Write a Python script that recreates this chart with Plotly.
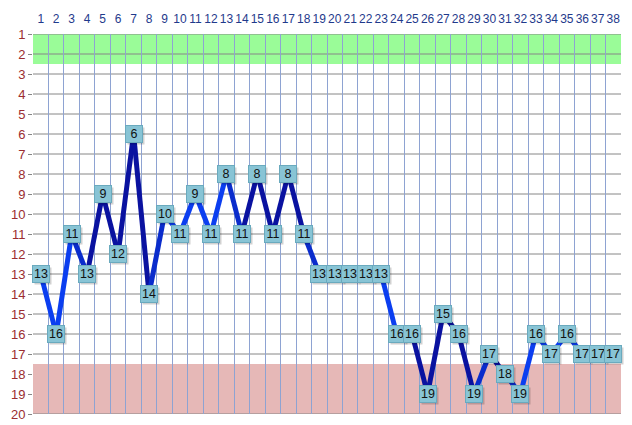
import plotly.graph_objects as go

rounds = list(range(1, 39))
positions = [13, 16, 11, 13, 9, 12, 6, 14, 10, 11, 9, 11, 8, 11, 8, 11, 8, 11,
             13, 13, 13, 13, 13, 16, 16, 19, 15, 16, 19, 17, 18, 19, 16, 17, 16, 17, 17, 17]
y_ticks = list(range(1, 21))
top_zone = [1, 2.5]
bottom_zone = [17.5, 20]

BRIGHT = "#0b3ef0"
MED = "#0a2ccc"
DARK = "#0a12a0"
seg_colors = [BRIGHT, BRIGHT, MED, DARK, DARK, DARK, DARK, MED, BRIGHT, BRIGHT,
              BRIGHT, BRIGHT, MED, DARK, DARK, DARK, DARK, MED, BRIGHT, BRIGHT,
              BRIGHT, BRIGHT, BRIGHT, BRIGHT, DARK, DARK, DARK, DARK, MED, DARK,
              MED, BRIGHT, BRIGHT, BRIGHT, BRIGHT, BRIGHT, BRIGHT]

fig = go.Figure()
for i in range(len(rounds) - 1):
    fig.add_trace(go.Scatter(
        x=[rounds[i], rounds[i + 1]], y=[positions[i], positions[i + 1]],
        mode="lines", line=dict(color=seg_colors[i], width=5),
        showlegend=False, hoverinfo="skip"))

annotations = []
for xv, yv in zip(rounds, positions):
    annotations.append(dict(x=xv, y=yv, xref="x", yref="y", text="", showarrow=False,
                            width=16, height=16, bgcolor="rgba(0,0,0,0.18)",
                            xshift=2, yshift=-2, borderpad=0))
for xv, yv in zip(rounds, positions):
    annotations.append(dict(x=xv, y=yv, xref="x", yref="y", text=str(yv), showarrow=False,
                            width=16, height=16, bgcolor="#88c4d5", bordercolor="#6aaabe",
                            borderwidth=1, borderpad=0,
                            font=dict(family="Liberation Sans", size=12.5, color="#111111")))

GRID_H = "#868686"
shapes = [dict(type="rect", xref="paper", yref="y", x0=0, x1=1, y0=top_zone[0], y1=top_zone[1],
               fillcolor="#9afc98", line=dict(width=0), layer="below")]
for v in y_ticks:
    shapes.append(dict(type="line", xref="paper", yref="y", x0=0, x1=1, y0=v, y1=v,
                       line=dict(color=GRID_H, width=1), layer="below"))
shapes.append(dict(type="rect", xref="paper", yref="y", x0=0, x1=1,
                   y0=bottom_zone[0], y1=bottom_zone[1],
                   fillcolor="#e6b8b7", line=dict(width=0), layer="below"))
shapes.append(dict(type="line", xref="paper", yref="y", x0=0, x1=1,
                   y0=y_ticks[-1], y1=y_ticks[-1],
                   line=dict(color=GRID_H, width=1), layer="below"))

fig.update_layout(
    width=624, height=417,
    margin=dict(l=25, r=11, t=26, b=11),
    paper_bgcolor="white", plot_bgcolor="white",
    shapes=shapes, annotations=annotations,
    xaxis=dict(range=[0.5, 38.5], side="top", tickvals=rounds,
               ticktext=[str(r) for r in rounds], showgrid=False, zeroline=False,
               ticks="", ticklabelstandoff=8, automargin=False, tickangle=0,
               tickfont=dict(family="Liberation Sans", size=12, color="#1f3a8c"),
               minor=dict(tick0=0.5, dtick=1, showgrid=True, gridcolor="#8ea3d2", gridwidth=1),
               showline=False),
    yaxis=dict(range=[20, 1], tickvals=y_ticks, ticktext=[str(v) for v in y_ticks],
               showgrid=False, zeroline=False, automargin=False,
               ticks="outside", ticklen=4, tickcolor=GRID_H,
               tickfont=dict(family="Liberation Sans", size=13, color="#9b2d30"),
               showline=False),
)

fig.write_html("out.html")
